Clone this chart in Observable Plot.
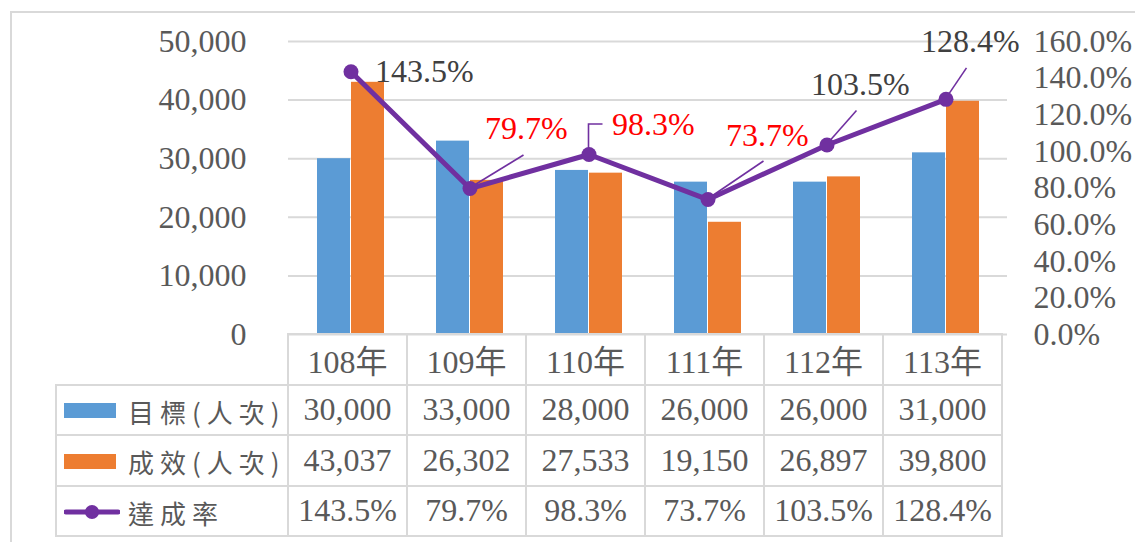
<!DOCTYPE html>
<html>
<head>
<meta charset="utf-8">
<script src="https://cdn.jsdelivr.net/npm/d3@7"></script>
<script src="https://cdn.jsdelivr.net/npm/@observablehq/plot@0.6"></script>
<style>
  html, body { margin: 0; padding: 0; background: #fff; }
  #wrap { position: relative; width: 1135px; height: 542px; overflow: hidden; background: #fff; }
  #frame { position: absolute; left: 10px; top: 11px; width: 1300px; height: 700px;
           border-top: 2px solid #d9d9d9; border-left: 2px solid #d9d9d9; }
  #chart { position: absolute; left: 0; top: 0; }
  #tbl { position: absolute; left: 55px; top: 333px; border-collapse: collapse; table-layout: fixed;
         font-family: "Liberation Serif", "Noto Sans CJK TC", serif; font-size: 32px; color: #595959; }
  #tbl td { border: 2px solid #d9d9d9; height: 48.5px; padding: 0; text-align: center; white-space: nowrap; }
  #tbl td.blank { border: none; }
  #tbl td.leg { text-align: left; padding-left: 7px; }
  #tbl td.leg span { font-family: "Noto Sans CJK TC", sans-serif; font-size: 26px; letter-spacing: 6px;
                     margin-left: 8px; vertical-align: middle; color: #595959; }
  #tbl td.leg svg { vertical-align: middle; }
</style>
</head>
<body>
<div id="wrap">
  <div id="frame"></div>
  <div id="chart"></div>
</div>
<script>
// ---- data ----
const years = ["108年", "109年", "110年", "111年", "112年", "113年"];
const targets = [30000, 33000, 28000, 26000, 26000, 31000];
const actuals = [43037, 26302, 27533, 19150, 26897, 39800];
const rates = [143.5, 79.7, 98.3, 73.7, 103.5, 128.4];
const leftTicks = [0, 10000, 20000, 30000, 40000, 50000];
const rightTicks = [0, 20, 40, 60, 80, 100, 120, 140, 160];
const seriesNames = ["目標(人次)", "成效(人次)", "達成率"];

// ---- styles / layout ----
const BLUE = "#5B9BD5", ORANGE = "#ED7D31", PURPLE = "#7030A0";
const FONT = '"Liberation Serif", "Noto Sans CJK TC", serif';
const FS = 32;
const labelOffsets = [[24, 0], [15, -60], [23, -30], [18, -64], [-16, -60], [-25, -58]];
const leaderPaths = [null, [[54, -33]], [[0, -30], [14, -30]], [[56, -38]], [[30, -34]], [[21, -31]]];

const yMax = leftTicks[leftTicks.length - 1];
const rMax = rightTicks[rightTicks.length - 1];
const K = yMax / rMax; // map percent onto the left scale

const rows = years.map((year, i) => ({year, target: targets[i], actual: actuals[i], rate: rates[i]}));
const fmtN = d3.format(",");
const fmtP = d => d.toFixed(1) + "%";

const leaders = (index, scales) => {
  const g = d3.create("svg:g");
  const bw = scales.x.bandwidth ? scales.x.bandwidth() / 2 : 0;
  rows.forEach((d, i) => {
    const p = leaderPaths[i];
    if (!p) return;
    const cx = scales.x(d.year) + bw;
    const cy = scales.y(d.rate * K);
    g.append("path")
      .attr("d", "M" + cx + "," + cy + p.map(([dx, dy]) => "L" + (cx + dx) + "," + (cy + dy)).join(""))
      .attr("fill", "none").attr("stroke", PURPLE).attr("stroke-width", 1.6);
  });
  return g.node();
};

const dataLabels = rows.map((d, i) => Plot.text([d], {
  x: "year", y: r => r.rate * K, text: r => fmtP(r.rate), textAnchor: "start",
  dx: labelOffsets[i][0], dy: labelOffsets[i][1],
  fill: d.rate < 100 ? "#FF0000" : "#404040", fontSize: FS
}));

const chart = Plot.plot({
  width: 1135,
  height: 352,
  marginLeft: 288,
  marginRight: 128,
  marginTop: 41,
  marginBottom: 18,
  style: {fontFamily: FONT, fontSize: FS + "px", color: "#595959", background: "transparent", overflow: "visible"},
  x: {type: "band", domain: years, padding: 0, axis: null},
  y: {domain: [0, yMax], ticks: leftTicks, tickSize: 0, tickPadding: 42, tickFormat: fmtN, label: null},
  marks: [
    Plot.ruleY(leftTicks, {stroke: "#d9d9d9", strokeWidth: 2}),
    Plot.barY(rows, {x: "year", y: "target", fill: BLUE, insetLeft: 26, insetRight: 60}),
    Plot.barY(rows, {x: "year", y: "actual", fill: ORANGE, insetLeft: 60, insetRight: 26}),
    leaders,
    Plot.line(rows, {x: "year", y: d => d.rate * K, stroke: PURPLE, strokeWidth: 5}),
    Plot.dot(rows, {x: "year", y: d => d.rate * K, r: 7.5, fill: PURPLE}),
    ...dataLabels,
    Plot.text(rightTicks, {
      y: d => d * K, text: d => fmtP(d), frameAnchor: "right", dx: 26, textAnchor: "start",
      fill: "#595959", fontSize: FS
    })
  ]
});
document.getElementById("chart").appendChild(chart);

// ---- data table below the plot ----
const xs = chart.scale("x");
const colW = xs.bandwidth;
const firstW = xs.range[0] - 56;
const table = d3.select("#wrap").append("table").attr("id", "tbl");
const cg = table.append("colgroup");
cg.append("col").style("width", firstW + "px");
years.forEach(() => cg.append("col").style("width", colW + "px"));

const hdr = table.append("tr");
hdr.append("td").attr("class", "blank");
years.forEach(y => hdr.append("td").text(y));

const icons = [
  s => s.append("rect").attr("x", 0).attr("y", 1).attr("width", 52).attr("height", 15).attr("fill", BLUE),
  s => s.append("rect").attr("x", 0).attr("y", 1).attr("width", 52).attr("height", 15).attr("fill", ORANGE),
  s => { s.append("line").attr("x1", 2).attr("x2", 54).attr("y1", 9).attr("y2", 9).attr("stroke", PURPLE).attr("stroke-width", 5).attr("stroke-linecap", "round");
         s.append("circle").attr("cx", 28).attr("cy", 9).attr("r", 7).attr("fill", PURPLE); }
];
const seriesVals = [targets.map(fmtN), actuals.map(fmtN), rates.map(fmtP)];
seriesNames.forEach((name, k) => {
  const tr = table.append("tr");
  const td = tr.append("td").attr("class", "leg");
  const svg = td.append("svg").attr("width", 56).attr("height", 18);
  icons[k](svg);
  td.append("span").text(name);
  seriesVals[k].forEach(v => tr.append("td").text(v));
});
</script>
</body>
</html>
